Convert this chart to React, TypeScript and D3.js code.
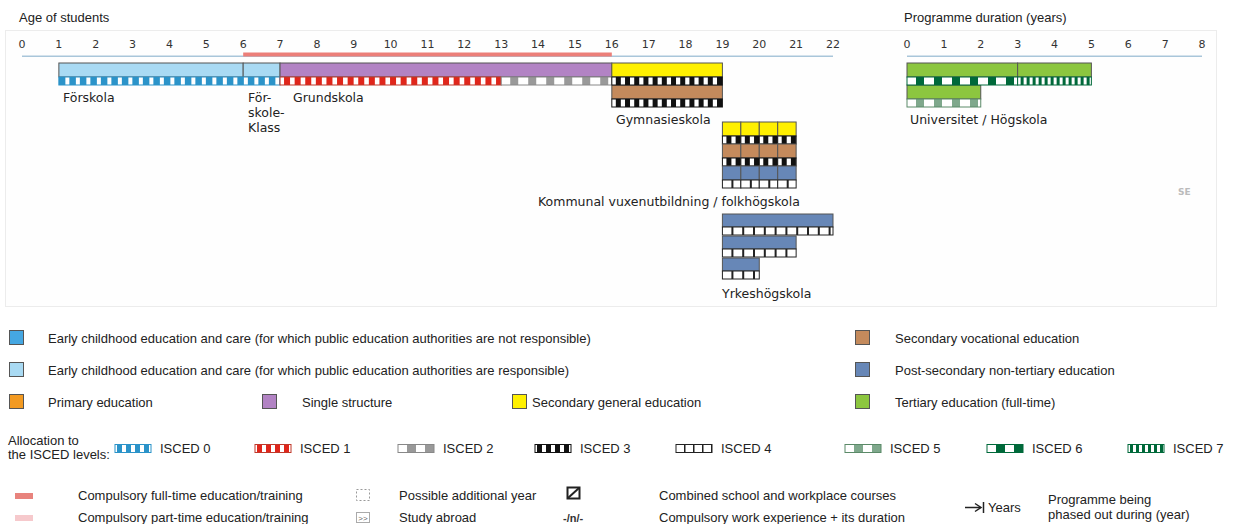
import React, { useEffect, useRef } from 'react';
import * as d3 from 'd3';

// axis ticks
const ageTicks = [0, 1, 2, 3, 4, 5, 6, 7, 8, 9, 10, 11, 12, 13, 14, 15, 16, 17, 18, 19, 20, 21, 22];
const durationTicks = [0, 1, 2, 3, 4, 5, 6, 7, 8];
const compulsoryAges = [6, 16];

// main structure (age axis)
const ageBars = [
  { name: 'Förskola', from: 1, to: 6, lane: 0, type: 'ecResp' },
  { name: 'Förskoleklass', from: 6, to: 7, lane: 0, type: 'ecResp' },
  { name: 'Grundskola', from: 7, to: 16, lane: 0, type: 'single' },
  { name: 'Gymnasieskola', from: 16, to: 19, lane: 0, type: 'secGen' },
  { name: 'Gymnasieskola', from: 16, to: 19, lane: 1, type: 'secVoc' },
];
const ageIsced = [
  { from: 1, to: 7, lane: 0, level: 0 },
  { from: 7, to: 13, lane: 0, level: 1 },
  { from: 13, to: 16, lane: 0, level: 2 },
  { from: 16, to: 19, lane: 0, level: 3 },
  { from: 16, to: 19, lane: 1, level: 3 },
];

// Kommunal vuxenutbildning / folkhögskola: half-year cells
const komvuxCells = [19, 19.5, 20, 20.5];
const komvuxCellLength = 0.5;
const komvuxRows = [
  { type: 'secGen', level: 3 },
  { type: 'secVoc', level: 3 },
  { type: 'postSec', level: 4 },
];

// Yrkeshögskola
const yrkesStart = 19;
const yrkesDurations = [3, 2, 1];

// Universitet / Högskola (duration axis)
const uniBars = [
  { from: 0, to: 3, lane: 0 },
  { from: 3, to: 5, lane: 0 },
  { from: 0, to: 2, lane: 1 },
];
const uniIsced = [
  { from: 0, to: 3, lane: 0, level: 6 },
  { from: 3, to: 5, lane: 0, level: 7 },
  { from: 0, to: 2, lane: 1, level: 5 },
];

const typeColors: Record<string, string> = {
  ecNot: '#45a7e2',
  ecResp: '#a9daf3',
  primary: '#f39a21',
  single: '#b283c4',
  secGen: '#fff000',
  secVoc: '#c48a5c',
  postSec: '#6787b7',
  tertiary: '#8cc63f',
};

const legendRows = [
  [{ type: 'ecNot', label: 'Early childhood education and care (for which public education authorities are not responsible)' }, { type: 'secVoc', label: 'Secondary vocational education' }],
  [{ type: 'ecResp', label: 'Early childhood education and care (for which public education authorities are responsible)' }, { type: 'postSec', label: 'Post-secondary non-tertiary education' }],
  [{ type: 'primary', label: 'Primary education' }, { type: 'single', label: 'Single structure' }, { type: 'secGen', label: 'Secondary general education' }, { type: 'tertiary', label: 'Tertiary education (full-time)' }],
];
const legendColumns = [[9, 855], [9, 855], [9, 262, 512, 855]];
const legendTextGap = [[39, 40], [39, 40], [39, 40, 20, 40]];

const iscedLevels = [0, 1, 2, 3, 4, 5, 6, 7];
const iscedLegendX = [115, 255, 398, 535, 676, 845, 987, 1128];

// stripe styles per ISCED level: colour, period, mark width, offset
const iscedStyle: Record<number, { color: string; period: number; on: number; offset: number; border: string }> = {
  0: { color: '#2b93c9', period: 10.5, on: 6.5, offset: 0, border: '#2b93c9' },
  1: { color: '#e0261b', period: 10.6, on: 6, offset: 4, border: '#c0392b' },
  2: { color: '#999999', period: 18, on: 8, offset: 9, border: '#888888' },
  3: { color: '#111111', period: 9.2, on: 5, offset: 4, border: '#111111' },
  4: { color: '#222222', period: 10.8, on: 2, offset: 9, border: '#222222' },
  5: { color: '#7fa88c', period: 18, on: 8, offset: 9, border: '#5b8a68' },
  6: { color: '#00693a', period: 18, on: 8, offset: 9, border: '#00693a' },
  7: { color: '#00693a', period: 6, on: 3, offset: 3, border: '#00693a' },
};

const FONT_CHART = '"DejaVu Sans", Verdana, sans-serif';
const FONT_LEGEND = '"Liberation Sans", Arial, sans-serif';

const App: React.FC = () => {
  const svgRef = useRef<SVGSVGElement>(null);
  const width = 1237;
  const height = 524;

  useEffect(() => {
    document.body.style.margin = '0';
    document.body.style.overflow = 'hidden';
    if (!svgRef.current) return;
    const svg = d3.select(svgRef.current);
    svg.selectAll('*').remove();

    const xAge = d3.scaleLinear().domain([0, 22]).range([22, 833]);
    const xDur = d3.scaleLinear().domain([0, 8]).range([907, 1202]);

    const fillH = 14;
    const stripeH = 8;
    const laneH = fillH + stripeH;

    // stripe painter
    const stripe = (g: any, x0: number, x1: number, y: number, level: number) => {
      const st = iscedStyle[level];
      g.append('rect')
        .attr('x', x0).attr('y', y).attr('width', x1 - x0).attr('height', stripeH)
        .attr('fill', '#fff');
      d3.range(x0 - st.period + st.offset, x1, st.period).forEach(sx => {
        const a = Math.max(sx, x0);
        const b = Math.min(sx + st.on, x1);
        if (b - a <= 0.3) return;
        g.append('rect')
          .attr('x', a).attr('y', y).attr('width', b - a).attr('height', stripeH)
          .attr('fill', st.color);
      });
      g.append('rect')
        .attr('x', x0).attr('y', y).attr('width', x1 - x0).attr('height', stripeH)
        .attr('fill', 'none').attr('stroke', st.border).attr('stroke-width', 1);
    };

    const fillBar = (g: any, x0: number, x1: number, y: number, h: number, type: string) => {
      g.append('rect')
        .attr('x', x0).attr('y', y).attr('width', x1 - x0).attr('height', h)
        .attr('fill', typeColors[type])
        .attr('stroke', '#555').attr('stroke-width', 1);
    };

    // panel background
    svg.append('rect')
      .attr('x', 5.5).attr('y', 30.5).attr('width', 1211).attr('height', 276)
      .attr('fill', '#fefefe').attr('stroke', '#ececec').attr('stroke-width', 1);

    // titles
    svg.append('text').attr('x', 19).attr('y', 22)
      .style('font-family', FONT_LEGEND).style('font-size', '13px').style('fill', '#222')
      .text('Age of students');
    svg.append('text').attr('x', 904).attr('y', 22)
      .style('font-family', FONT_LEGEND).style('font-size', '13px').style('fill', '#222')
      .text('Programme duration (years)');

    // axes
    const tickG = svg.append('g')
      .style('font-family', FONT_CHART).style('font-size', '11px').style('fill', '#333');
    ageTicks.forEach(t => {
      tickG.append('text').attr('x', xAge(t)).attr('y', 48).attr('text-anchor', 'middle').text(t);
    });
    durationTicks.forEach(t => {
      tickG.append('text').attr('x', xDur(t)).attr('y', 48).attr('text-anchor', 'middle').text(t);
    });
    svg.append('rect')
      .attr('x', xAge(0)).attr('y', 55.5).attr('width', xAge(22) - xAge(0)).attr('height', 1.5)
      .attr('fill', '#a9c6da');
    svg.append('rect')
      .attr('x', xDur(0)).attr('y', 55.5).attr('width', xDur(8) - xDur(0)).attr('height', 1.5)
      .attr('fill', '#a9c6da');
    svg.append('rect')
      .attr('x', xAge(compulsoryAges[0])).attr('y', 52.5)
      .attr('width', xAge(compulsoryAges[1]) - xAge(compulsoryAges[0])).attr('height', 4)
      .attr('fill', '#ec7f79');

    // main bars
    const mainTop = 63;
    const mainG = svg.append('g');
    ageBars.forEach(b => {
      fillBar(mainG, xAge(b.from), xAge(b.to), mainTop + b.lane * laneH, fillH, b.type);
    });
    ageIsced.forEach(s => {
      stripe(mainG, xAge(s.from), xAge(s.to), mainTop + s.lane * laneH + fillH, s.level);
    });

    // komvux cells
    const komTop = 122;
    komvuxRows.forEach((row, r) => {
      komvuxCells.forEach(c => {
        const x0 = xAge(c);
        const x1 = xAge(c + komvuxCellLength);
        const y = komTop + r * laneH;
        fillBar(mainG, x0, x1, y, fillH, row.type);
        stripe(mainG, x0, x1, y + fillH, row.level);
      });
    });

    // yrkeshögskola
    const yhTop = 214;
    yrkesDurations.forEach((d, i) => {
      const x0 = xAge(yrkesStart);
      const x1 = xAge(yrkesStart + d);
      const y = yhTop + i * laneH;
      fillBar(mainG, x0, x1, y, fillH - 1, 'postSec');
      stripe(mainG, x0, x1, y + fillH - 1, 4);
    });

    // university
    uniBars.forEach(b => {
      fillBar(mainG, xDur(b.from), xDur(b.to), mainTop + b.lane * laneH, fillH, 'tertiary');
    });
    uniIsced.forEach(s => {
      stripe(mainG, xDur(s.from), xDur(s.to), mainTop + s.lane * laneH + fillH, s.level);
    });

    // programme labels
    const lab = svg.append('g')
      .style('font-family', FONT_CHART).style('font-size', '12.5px').style('fill', '#222');
    const label = (x: number, y: number, t: string) => lab.append('text').attr('x', x).attr('y', y).text(t);
    label(63, 102, 'Förskola');
    label(248, 102, 'För-');
    label(248, 117, 'skole-');
    label(248, 132, 'Klass');
    label(293, 102, 'Grundskola');
    label(616, 124, 'Gymnasieskola');
    label(538, 206, 'Kommunal vuxenutbildning / folkhögskola');
    label(722, 298, 'Yrkeshögskola');
    label(910, 124, 'Universitet / Högskola');
    svg.append('text').attr('x', 1178).attr('y', 195)
      .style('font-family', FONT_CHART).style('font-size', '9px').style('font-weight', 'bold').style('fill', '#bbb')
      .text('SE');

    // legend
    const leg = svg.append('g')
      .style('font-family', FONT_LEGEND).style('font-size', '13px').style('fill', '#222');
    const rowY = [338, 370, 402];
    legendRows.forEach((row, r) => {
      row.forEach((item, c) => {
        const x = legendColumns[r][c];
        leg.append('rect')
          .attr('x', x + 0.5).attr('y', rowY[r] - 7.5).attr('width', 14).attr('height', 14)
          .attr('fill', typeColors[item.type]).attr('stroke', '#555').attr('stroke-width', 1);
        leg.append('text').attr('x', x + legendTextGap[r][c]).attr('y', rowY[r] + 4.5).text(item.label);
      });
    });

    // ISCED legend
    leg.append('text').attr('x', 8).attr('y', 445).text('Allocation to');
    leg.append('text').attr('x', 8).attr('y', 459).text('the ISCED levels:');
    iscedLevels.forEach((lv, i) => {
      const x = iscedLegendX[i];
      const isc = svg.append('g');
      const st = iscedStyle[lv];
      // small icon: 36 x 8
      const y = 444.5;
      isc.append('rect').attr('x', x).attr('y', y).attr('width', 36).attr('height', 8).attr('fill', '#fff');
      const per = lv === 2 || lv === 5 || lv === 6 ? 18 : lv === 7 ? 6 : 9;
      const on = lv === 2 || lv === 5 || lv === 6 ? 9 : lv === 7 ? 3 : lv === 4 ? 1.5 : 5;
      const off = lv === 2 || lv === 5 || lv === 6 ? 9 : lv === 4 ? 8 : 2;
      d3.range(x + off, x + 36, per).forEach(sx => {
        isc.append('rect').attr('x', sx).attr('y', y)
          .attr('width', Math.min(on, x + 36 - sx)).attr('height', 8).attr('fill', st.color);
      });
      isc.append('rect').attr('x', x).attr('y', y).attr('width', 36).attr('height', 8)
        .attr('fill', 'none').attr('stroke', st.border).attr('stroke-width', 1);
      leg.append('text').attr('x', x + 45).attr('y', 453).text(`ISCED ${lv}`);
    });

    // bottom notes
    svg.append('rect').attr('x', 15).attr('y', 493).attr('width', 18).attr('height', 6).attr('fill', '#e8837d');
    svg.append('rect').attr('x', 15).attr('y', 515).attr('width', 18).attr('height', 6).attr('fill', '#f6c9cc');
    leg.append('text').attr('x', 78).attr('y', 500).text('Compulsory full-time education/training');
    leg.append('text').attr('x', 78).attr('y', 522).text('Compulsory part-time education/training');

    svg.append('rect').attr('x', 356.5).attr('y', 489.5).attr('width', 13).attr('height', 11)
      .attr('fill', 'none').attr('stroke', '#999').attr('stroke-dasharray', '2,2');
    svg.append('rect').attr('x', 356.5).attr('y', 512.5).attr('width', 13).attr('height', 10)
      .attr('fill', 'none').attr('stroke', '#aaa');
    svg.append('text').attr('x', 363).attr('y', 521).attr('text-anchor', 'middle')
      .style('font-family', FONT_LEGEND).style('font-size', '8px').style('fill', '#666').text('>>');
    leg.append('text').attr('x', 399).attr('y', 500).text('Possible additional year');
    leg.append('text').attr('x', 399).attr('y', 522).text('Study abroad');

    svg.append('rect').attr('x', 567.5).attr('y', 487.5).attr('width', 12).attr('height', 11)
      .attr('fill', 'none').attr('stroke', '#222').attr('stroke-width', 2);
    svg.append('line').attr('x1', 568).attr('y1', 498).attr('x2', 579).attr('y2', 488)
      .attr('stroke', '#222').attr('stroke-width', 2);
    svg.append('text').attr('x', 563).attr('y', 522)
      .style('font-family', FONT_LEGEND).style('font-size', '11px').style('font-weight', 'bold').style('fill', '#333')
      .text('-/n/-');
    leg.append('text').attr('x', 659).attr('y', 500).text('Combined school and workplace courses');
    leg.append('text').attr('x', 659).attr('y', 522).text('Compulsory work experience + its duration');

    // phased-out arrow symbol
    svg.append('line').attr('x1', 965).attr('y1', 507.5).attr('x2', 980).attr('y2', 507.5)
      .attr('stroke', '#222').attr('stroke-width', 1.5);
    svg.append('path').attr('d', 'M975,503.5 L981,507.5 L975,511.5').attr('fill', 'none')
      .attr('stroke', '#222').attr('stroke-width', 1.5);
    svg.append('line').attr('x1', 983.5).attr('y1', 502).attr('x2', 983.5).attr('y2', 513)
      .attr('stroke', '#222').attr('stroke-width', 1.5);
    leg.append('text').attr('x', 988).attr('y', 512).text('Years');
    leg.append('text').attr('x', 1048).attr('y', 504).text('Programme being');
    leg.append('text').attr('x', 1048).attr('y', 519).text('phased out during (year)');
  }, []);

  return (
    <svg ref={svgRef} width={width} height={height} style={{ display: 'block', background: '#fff' }} />
  );
};

export default App;
